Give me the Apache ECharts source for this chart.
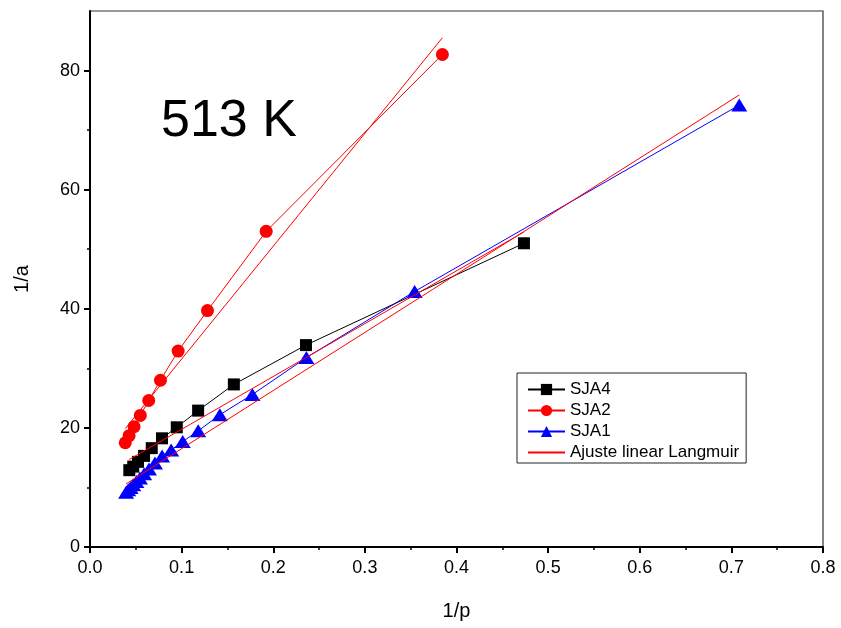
<!DOCTYPE html>
<html>
<head>
<meta charset="utf-8">
<script src="https://cdn.jsdelivr.net/npm/echarts@6/dist/echarts.min.js"></script>
<style>html,body{margin:0;padding:0;background:#fff}#c{width:841px;height:628px}</style>
</head>
<body>
<div id="c"></div>
<script>
// SJA4 (black squares)
const xSJA4 = [0.4736, 0.2357, 0.1570, 0.1180, 0.0947, 0.0786, 0.0674, 0.0590, 0.0524, 0.0472, 0.0429];
const ySJA4 = [51.0, 33.9, 27.3, 22.9, 20.1, 18.25, 16.6, 15.3, 14.3, 13.5, 12.9];
// SJA2 (red circles)
const xSJA2 = [0.3846, 0.1923, 0.1282, 0.0962, 0.0769, 0.0641, 0.0549, 0.0481, 0.0427, 0.0385];
const ySJA2 = [82.7, 53.0, 39.7, 32.9, 28.0, 24.6, 22.1, 20.2, 18.7, 17.5];
// SJA1 (blue triangles)
const xSJA1 = [0.7086, 0.3543, 0.2362, 0.1772, 0.1417, 0.1181, 0.1012, 0.0886, 0.0787, 0.0709, 0.0644, 0.0591, 0.0545, 0.0506, 0.0472, 0.0443, 0.0417, 0.0394];
const ySJA1 = [74.2, 42.9, 31.8, 25.6, 22.2, 19.5, 17.7, 16.3, 15.3, 14.1, 13.1, 12.3, 11.6, 11.0, 10.45, 10.0, 9.6, 9.2];
// Linear Langmuir fits (endpoints)
const fitSJA4X = [0.0429, 0.4736], fitSJA4Y = [14.7, 52.9];
const fitSJA2X = [0.0385, 0.3846], fitSJA2Y = [19.9, 85.5];
const fitSJA1X = [0.0394, 0.7086], fitSJA1Y = [10.6, 75.9];
// Ticks
const yMajorTicks = [0, 20, 40, 60, 80];
const yMinorTicks = [10, 30, 50, 70];
const seriesNames = ['SJA4', 'SJA2', 'SJA1', 'Ajuste linear Langmuir'];

const pairs = (xs, ys) => xs.map((x, i) => [x, ys[i]]);
const FONT = 'Liberation Sans, Arial, sans-serif';
const fitName = seriesNames[3];

const chart = echarts.init(document.getElementById('c'), null, {renderer: 'canvas'});
chart.setOption({
  animation: false,
  backgroundColor: '#fff',
  grid: {left: 90, right: 18, top: 11, bottom: 81, show: true, borderColor: '#333', borderWidth: 1.2, backgroundColor: 'transparent'},
  xAxis: {
    type: 'value', min: 0, max: 0.8, interval: 0.1,
    name: '1/p', nameLocation: 'middle', nameGap: 54,
    nameTextStyle: {fontSize: 20, fontFamily: FONT, color: '#000'},
    axisLine: {onZero: false, lineStyle: {color: '#000', width: 2}},
    axisTick: {inside: false, length: 6, lineStyle: {color: '#000', width: 2}},
    minorTick: {show: true, splitNumber: 2, length: 3, lineStyle: {color: '#000', width: 1.5}},
    splitLine: {show: false},
    axisLabel: {fontSize: 18, fontFamily: FONT, color: '#000', margin: 12, formatter: v => v.toFixed(1)}
  },
  yAxis: [{
    type: 'value', min: 0, max: 90,
    name: '1/a', nameLocation: 'middle', nameGap: 58,
    nameTextStyle: {fontSize: 20, fontFamily: FONT, color: '#000'},
    axisLine: {onZero: false, lineStyle: {color: '#000', width: 2}},
    axisTick: {inside: false, length: 6, customValues: yMajorTicks, lineStyle: {color: '#000', width: 2}},
    splitLine: {show: false},
    axisLabel: {fontSize: 18, fontFamily: FONT, color: '#000', margin: 10, customValues: yMajorTicks}
  }, {
    type: 'value', min: 0, max: 90, position: 'left',
    axisLine: {show: false},
    axisTick: {show: true, inside: false, length: 3, customValues: yMinorTicks, lineStyle: {color: '#000', width: 1.5}},
    axisLabel: {show: false},
    splitLine: {show: false}
  }],
  legend: {
    orient: 'vertical', left: 517, top: 373,
    data: [
      {name: seriesNames[0]},
      {name: seriesNames[1]},
      {name: seriesNames[2]},
      {name: seriesNames[3], itemStyle: {color: 'rgba(0,0,0,0)', borderWidth: 0, opacity: 0}}
    ],
    borderColor: '#222', borderWidth: 1, backgroundColor: '#fff',
    padding: [8, 7, 2, 10],
    itemWidth: 37, itemHeight: 14, itemGap: 4,
    textStyle: {fontSize: 17, lineHeight: 14, fontFamily: FONT, color: '#000'}
  },
  graphic: [{
    type: 'text', left: 161, top: 96,
    style: {text: '513 K', font: '52px ' + FONT, fill: '#000'}
  }],
  series: [
    {name: 'SJA4', type: 'line', data: pairs(xSJA4, ySJA4), symbol: 'rect', symbolSize: 12,
     color: '#000', lineStyle: {color: '#000', width: 1}, itemStyle: {color: '#000'}, z: 2},
    {name: 'SJA2', type: 'line', data: pairs(xSJA2, ySJA2), symbol: 'circle', symbolSize: 13,
     color: '#ff0000', lineStyle: {color: '#ff0000', width: 1}, itemStyle: {color: '#ff0000'}, z: 2},
    {name: 'SJA1', type: 'line', data: pairs(xSJA1, ySJA1), symbol: 'triangle', symbolSize: [16, 13],
     color: '#0000ff', lineStyle: {color: '#0000ff', width: 1}, itemStyle: {color: '#0000ff'}, z: 2},
    {name: fitName, type: 'line', data: pairs(fitSJA4X, fitSJA4Y), symbol: 'none', color: '#ff0000',
     lineStyle: {color: '#ff0000', width: 1}, z: 3},
    {name: fitName, type: 'line', data: pairs(fitSJA2X, fitSJA2Y), symbol: 'none', color: '#ff0000',
     lineStyle: {color: '#ff0000', width: 1}, z: 3},
    {name: fitName, type: 'line', data: pairs(fitSJA1X, fitSJA1Y), symbol: 'none', color: '#ff0000',
     lineStyle: {color: '#ff0000', width: 1}, z: 3}
  ]
});
</script>
</body>
</html>
